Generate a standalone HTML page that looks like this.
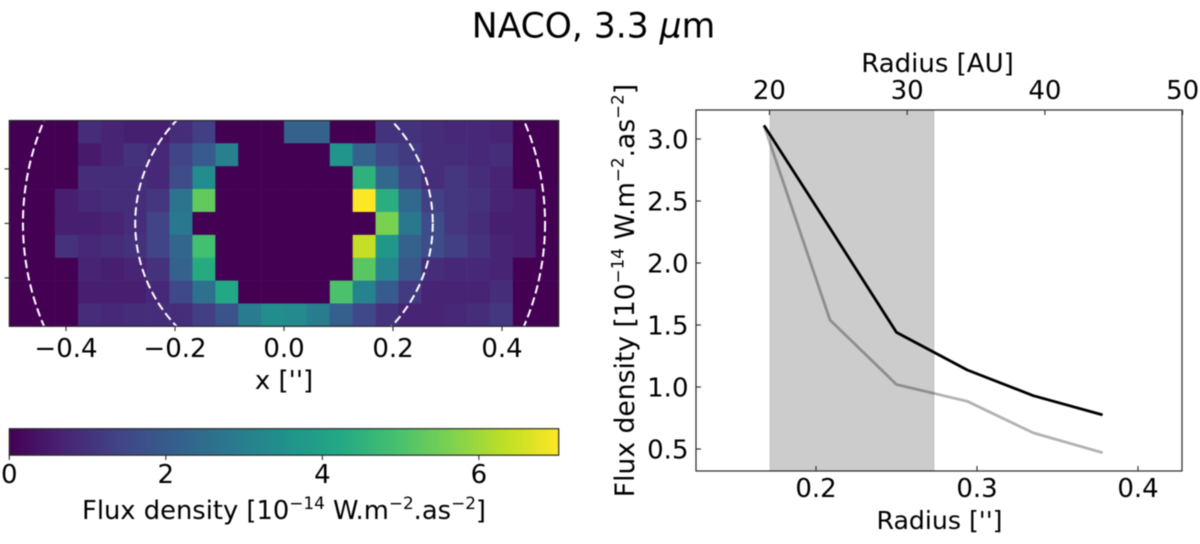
<!DOCTYPE html>
<html lang="en">
<head>
<meta charset="utf-8">
<title>NACO, 3.3 μm</title>
<style>
html,body{margin:0;padding:0;background:#fff;width:1200px;height:544px;overflow:hidden}
svg{display:block;filter:blur(0.6px)}
text{font-family:"DejaVu Sans","Liberation Sans",sans-serif;fill:#000}
</style>
</head>
<body>
<svg id="fig" width="1200" height="544" viewBox="0 0 1200 544" xmlns="http://www.w3.org/2000/svg">
  <defs>
    <clipPath id="map-clip"><rect x="9.3" y="120.5" width="549.4" height="205.8"/></clipPath>
    <linearGradient id="viridis-gradient" x1="0" x2="1" y1="0" y2="0"></linearGradient>
  </defs>
  <rect x="0" y="0" width="1200" height="544" fill="#fff"/>
  <text x="593.5" y="37.5" font-size="34.5" text-anchor="middle">NACO, 3.3 <tspan font-style="italic">μ</tspan>m</text>

  <g id="map"></g>
  <g id="colorbar"></g>
  <g id="profile"></g>

  <text x="284" y="389" font-size="26" text-anchor="middle">x ['']</text>
  <text x="284" y="519" font-size="26" text-anchor="middle" textLength="404" lengthAdjust="spacingAndGlyphs">Flux density [10<tspan font-size="17" dy="-10">−14</tspan><tspan dy="10"> W.m</tspan><tspan font-size="17" dy="-10">−2</tspan><tspan dy="10">.as</tspan><tspan font-size="17" dy="-10">−2</tspan><tspan dy="10">]</tspan></text>
  <text x="939.5" y="529" font-size="25.2" text-anchor="middle">Radius ['']</text>
  <text x="937.5" y="72" font-size="26" text-anchor="middle">Radius [AU]</text>
  <text transform="translate(634,290.5) rotate(-90)" font-size="26.6" text-anchor="middle">Flux density [10<tspan font-size="16.7" dy="-10.5">−14</tspan><tspan dy="10.5"> W.m</tspan><tspan font-size="16.7" dy="-10.5">−2</tspan><tspan dy="10.5">.as</tspan><tspan font-size="16.7" dy="-10.5">−2</tspan><tspan dy="10.5">]</tspan></text>
</svg>
<script>
// Heatmap data: 9 rows x 24 columns of flux density, top row first
const fluxRow0 = [0,0,0,0.9,0.7,0.6,0.6,0.9,1.3,0,0,0,2.2,2.2,0,0,1.0,1.0,0.9,0.8,0.8,0.7,0,0];
const fluxRow1 = [0,0,0,0.5,0.7,1.0,0.8,1.4,2.0,3.0,0,0,0,0,3.6,2.2,1.5,1.2,0.9,0.9,0.8,0.9,0,0];
const fluxRow2 = [0,0,0,0.9,0.9,0.9,0.8,1.6,3.4,0,0,0,0,0,0,4.5,2.4,1.4,0.9,1.1,0.9,0.7,0,0];
const fluxRow3 = [0,0,0.6,0.8,0.9,0.9,1.1,2.7,5.3,0,0,0,0,0,0,7.0,4.4,2.4,1.3,1.1,1.0,0.7,0.6,0];
const fluxRow4 = [0,0,0.6,0.6,0.7,0.9,1.4,2.8,0,0,0,0,0,0,0,0,5.6,2.8,1.6,1.1,0.9,0.6,0.6,0];
const fluxRow5 = [0,0,1.0,0.8,0.9,1.0,1.4,2.3,4.9,0,0,0,0,0,0,6.4,3.7,2.2,1.6,1.3,1.0,0.7,0.6,0];
const fluxRow6 = [0,0,0,0.7,0.6,0.7,1.0,2.2,4.3,0,0,0,0,0,0,5.2,3.2,1.9,0.9,0.8,0.8,0.7,0,0];
const fluxRow7 = [0,0,0,0.6,0.6,0.6,0.8,1.5,2.6,4.2,0,0,0,0,5.0,3.1,2.0,1.2,0.7,0.7,0.7,0.9,0,0];
const fluxRow8 = [0,0,0,0.9,0.8,0.9,0.9,0.9,1.3,1.8,2.9,3.4,3.3,2.9,2.1,1.5,1.0,0.7,0.7,0.8,0.9,1.1,0,0];
const pixelScale = 0.042;
const ringRadii = [0.273, 0.479];
const mapXTicks = [-0.4,-0.2,0.0,0.2,0.4];
const mapYTicks = [-0.1,0.0,0.1];
const colorTicks = [0,2,4,6];
const colorMax = 7.02;
const viridisStops = ['#440154','#482475','#414487','#355f8d','#2a788e','#21918c','#22a884','#44bf70','#7ad151','#bddf26','#fde725'];
// Radial profile data
const radiusValues = [0.1677,0.2087,0.25,0.294,0.335,0.378];
const fluxBlack = [3.11,2.28,1.44,1.137,0.93,0.775];
const fluxGray = [3.11,1.54,1.02,0.885,0.63,0.47];
const shadedRange = [0.1714,0.2733];
const profileXTicks = [0.2,0.3,0.4];
const profileYTicks = [0.5,1.0,1.5,2.0,2.5,3.0];
const auTicks = [20,30,40,50];
const arcsecToAu = 116.9;

const NS = 'http://www.w3.org/2000/svg';
function mk(tag, attrs, parent){
  const el = document.createElementNS(NS, tag);
  for (const k in attrs) el.setAttribute(k, attrs[k]);
  parent.appendChild(el);
  return el;
}
function fmt(v, d){ return (v < 0 ? '\u2212' : '') + Math.abs(v).toFixed(d); }
function hexToRgb(h){ return [1,3,5].map(i => parseInt(h.substr(i,2),16)); }
function colorFor(v){
  const t = Math.max(0, Math.min(1, v / colorMax)) * (viridisStops.length - 1);
  const i = Math.min(Math.floor(t), viridisStops.length - 2);
  const a = hexToRgb(viridisStops[i]), b = hexToRgb(viridisStops[i+1]), f = t - i;
  return 'rgb(' + a.map((c,j) => Math.round(c + (b[j]-c)*f)).join(',') + ')';
}
function tickTextAttrs(x, y, anchor){
  return {x:x, y:y, 'font-size':26, 'text-anchor':anchor};
}
const SPINE = '#2a2a2a';

// ---------- Heatmap ----------
const mapG = document.getElementById('map');
const fluxRows = [fluxRow0,fluxRow1,fluxRow2,fluxRow3,fluxRow4,fluxRow5,fluxRow6,fluxRow7,fluxRow8];
const mapX = v => 284 + v * 545;
const mapY = v => 223.4 + v * 545;
const halfW = fluxRow0.length * pixelScale / 2;
const halfH = fluxRows.length * pixelScale / 2;
fluxRows.forEach((row, r) => {
  row.forEach((val, c) => {
    const x0 = mapX(-halfW + c * pixelScale), y0 = mapY(-halfH + r * pixelScale);
    const cell = mk('rect', {x:x0, y:y0, width:pixelScale*545+0.3, height:pixelScale*545+0.3, fill:colorFor(val)}, mapG);
    
    
  });
});
ringRadii.forEach(rad => {
  const ring = mk('circle', {cx:mapX(0), cy:mapY(0), r:rad*545, fill:'none', stroke:'#fff', 'stroke-width':2, 'stroke-dasharray':'8.5 4', 'clip-path':'url(#map-clip)'}, mapG);
  
  
});
const mapFrame = mk('rect', {x:9.3, y:120.5, width:549.4, height:205.8, fill:'none', stroke:SPINE, 'stroke-width':1.2}, mapG);


mapXTicks.forEach(v => {
  const t = mk('line', {x1:mapX(v), x2:mapX(v), y1:326.3, y2:331, stroke:SPINE, 'stroke-width':1.1}, mapG);
  
  
  const l = mk('text', tickTextAttrs(mapX(v), 357, 'middle'), mapG);
  
  
  l.textContent = fmt(v, 1);
});
mapYTicks.forEach(v => {
  const t = mk('line', {x1:4.6, x2:9.3, y1:mapY(v), y2:mapY(v), stroke:SPINE, 'stroke-width':1.1}, mapG);
  
  
});

// ---------- Colorbar ----------
const cbG = document.getElementById('colorbar');
const grad = document.getElementById('viridis-gradient');
viridisStops.forEach((c, i) => {
  mk('stop', {offset:i/(viridisStops.length-1), 'stop-color':c}, grad);
});
const cbX = v => 9.3 + v * (549.4 / colorMax);
const cbBar = mk('rect', {x:9.3, y:428.7, width:549.4, height:26.5, fill:'url(#viridis-gradient)', stroke:SPINE, 'stroke-width':1.2}, cbG);


colorTicks.forEach(v => {
  const t = mk('line', {x1:cbX(v), x2:cbX(v), y1:455.2, y2:460, stroke:SPINE, 'stroke-width':1.1}, cbG);
  
  
  const l = mk('text', tickTextAttrs(cbX(v), 483, 'middle'), cbG);
  
  
  l.textContent = String(v);
});

// ---------- Radial profile ----------
const prG = document.getElementById('profile');
const prX = r => 816 + (r - 0.2) * 1610;
const prY = v => 139 + (3 - v) * 124;
const plotL = 696, plotR = 1182, plotT = 110, plotB = 471;
const band = mk('rect', {x:prX(shadedRange[0]), y:plotT, width:prX(shadedRange[1])-prX(shadedRange[0]), height:plotB-plotT, fill:'#000', 'fill-opacity':0.2, stroke:'#000', 'stroke-opacity':0.1, 'stroke-width':1.2}, prG);


function pathFor(vals){
  return vals.map((v,i) => prX(radiusValues[i]).toFixed(1) + ',' + prY(v).toFixed(1)).join(' ');
}
const grayLine = mk('polyline', {points:pathFor(fluxGray), fill:'none', stroke:'#000', 'stroke-opacity':0.3, 'stroke-width':2.8, 'stroke-linejoin':'round'}, prG);


const blackLine = mk('polyline', {points:pathFor(fluxBlack), fill:'none', stroke:'#000', 'stroke-width':2.8, 'stroke-linejoin':'round'}, prG);


const prFrame = mk('rect', {x:plotL, y:plotT, width:plotR-plotL, height:plotB-plotT, fill:'none', stroke:SPINE, 'stroke-width':1.2}, prG);


profileXTicks.forEach(v => {
  const t = mk('line', {x1:prX(v), x2:prX(v), y1:plotB, y2:plotB-5, stroke:SPINE, 'stroke-width':1.1}, prG);
  
  
  const l = mk('text', tickTextAttrs(prX(v), 497, 'middle'), prG);
  
  
  l.textContent = v.toFixed(1);
});
profileYTicks.forEach(v => {
  const t = mk('line', {x1:plotL, x2:plotL+5, y1:prY(v), y2:prY(v), stroke:SPINE, 'stroke-width':1.1}, prG);
  
  
  const l = mk('text', tickTextAttrs(688.5, prY(v)+9.5, 'end'), prG);
  
  
  l.textContent = v.toFixed(1);
});
auTicks.forEach(v => {
  const x = prX(v / arcsecToAu);
  const t = mk('line', {x1:x, x2:x, y1:plotT, y2:plotT+5, stroke:SPINE, 'stroke-width':1.1}, prG);
  
  
  const l = mk('text', tickTextAttrs(x, 99, 'middle'), prG);
  
  
  l.textContent = String(v);
});
</script>
</body>
</html>
